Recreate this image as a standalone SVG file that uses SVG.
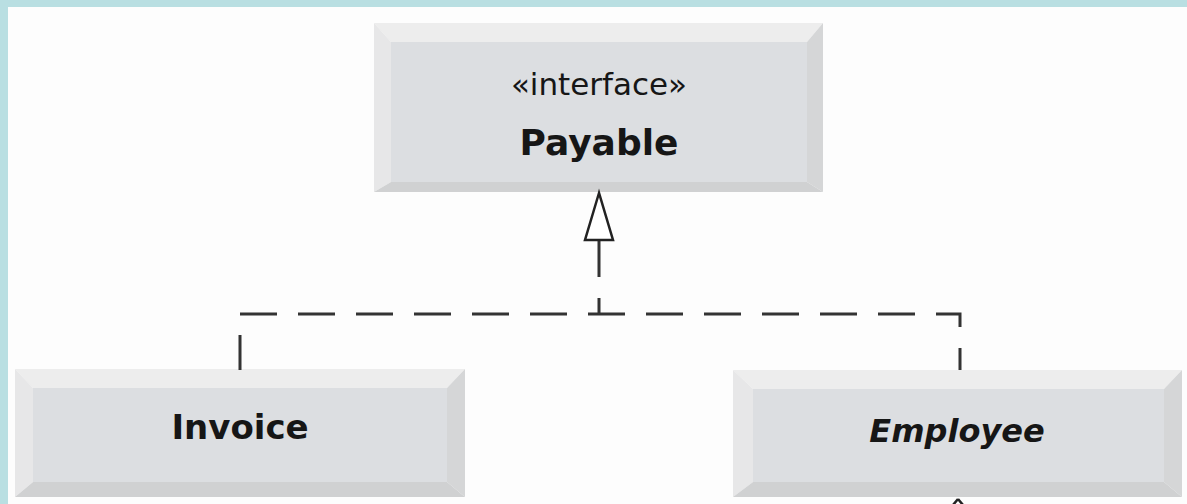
<svg xmlns="http://www.w3.org/2000/svg" width="1187" height="504" viewBox="0 0 1187 504">
<style>
.top{fill:#ededed}.left{fill:#e7e7e8}.right{fill:#d5d6d7}.bot{fill:#d0d1d2}.face{fill:#dcdee1}
.lbl{font-family:"DejaVu Sans",sans-serif;fill:#161616;text-anchor:middle}
.b{font-weight:bold}
.dash{fill:none;stroke:#333;stroke-width:3;stroke-dasharray:37 21}
</style>
<rect x="0" y="0" width="1187" height="504" fill="#fdfdfd"/>
<rect x="0" y="0" width="1187" height="7" fill="#b9dfe2"/>
<rect x="0" y="0" width="8" height="504" fill="#b9dfe2"/>

<g id="payable">
<polygon class="top" points="374,23 823,23 807,42 391,42"/>
<polygon class="left" points="374,23 391,42 391,182 374,192"/>
<polygon class="right" points="823,23 823,192 807,182 807,42"/>
<polygon class="bot" points="374,192 391,182 807,182 823,192"/>
<rect class="face" x="391" y="42" width="416" height="140"/>
<text class="lbl" x="599" y="95" font-size="31">«interface»</text>
<text class="lbl b" x="599" y="155" font-size="36">Payable</text>
</g>

<g id="invoice">
<polygon class="top" points="15,369 465,369 447,388 33,388"/>
<polygon class="left" points="15,369 33,388 33,482 15,497"/>
<polygon class="right" points="465,369 465,497 447,482 447,388"/>
<polygon class="bot" points="15,497 33,482 447,482 465,497"/>
<rect class="face" x="33" y="388" width="414" height="94"/>
<text class="lbl b" x="240" y="439" font-size="34">Invoice</text>
</g>

<g id="employee">
<polygon class="top" points="733,370 1182,370 1164,389 753,389"/>
<polygon class="left" points="733,370 753,389 753,482 733,497"/>
<polygon class="right" points="1182,370 1182,497 1164,482 1164,389"/>
<polygon class="bot" points="733,497 753,482 1164,482 1182,497"/>
<rect class="face" x="753" y="389" width="411" height="93"/>
<text class="lbl b" x="957" y="442" font-size="32" font-style="italic">Employee</text>
</g>

<g id="connectors">
<path class="dash" d="M240,370 V314 H960 V370" stroke-dashoffset="2"/>
<path class="dash" d="M599,314 V240" stroke-dashoffset="21"/>
<polygon points="599,193 585,240 613,240" fill="#fff" stroke="#222" stroke-width="2.5" stroke-linejoin="miter"/>
<path d="M958,499 L953,505 M958,499 L963,505" fill="none" stroke="#222" stroke-width="2.5"/>
</g>
</svg>
